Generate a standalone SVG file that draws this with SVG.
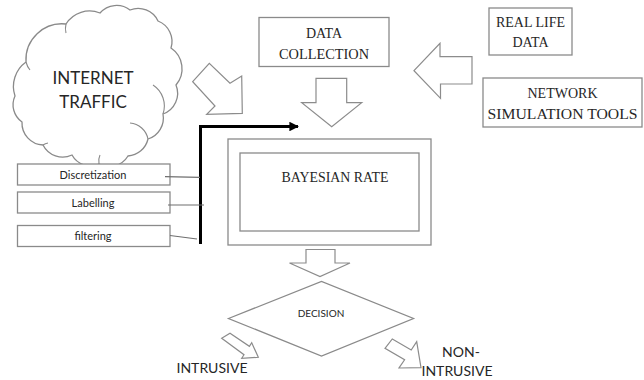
<svg xmlns="http://www.w3.org/2000/svg" width="644" height="380" viewBox="0 0 644 380">
<defs>
<style>
.box{fill:#fff;stroke:#8a8a8a;stroke-width:1.3}
.arr{fill:#fff;stroke:#8c8c8c;stroke-width:1.2;stroke-linejoin:miter}
.sans{font-family:Lato,"Open Sans","Liberation Sans",sans-serif;fill:#262626}
.serif{font-family:"Liberation Serif","DejaVu Serif",serif;fill:#262626}
.link{stroke:#6e6e6e;stroke-width:1.2;fill:none}
.inner{fill:none;stroke:#8a8a8a;stroke-width:1.1}
</style>
<marker id="ah" viewBox="0 0 10 10" refX="9" refY="5" markerWidth="3.2" markerHeight="3.2" orient="auto" markerUnits="strokeWidth">
<path d="M0,0 L10,5 L0,10 z" fill="#000"/>
</marker>
</defs>
<rect width="644" height="380" fill="#fff"/>

<g id="internet-traffic">
<path class="box" d="M15,96 A30,30 0 0 1 26,62 A36,36 0 0 1 66,24 A28,28 0 0 1 100,13 A22,22 0 0 1 130,10 A22,22 0 0 1 158,21 A22,22 0 0 1 171,48 A25,25 0 0 1 176,85 A22,22 0 0 1 163,114 A22,22 0 0 1 148,139 A22,22 0 0 1 128,156 A22,22 0 0 1 99,164 A21,21 0 0 1 72,155 A22,22 0 0 1 43,145 A22,22 0 0 1 22,122 A21,21 0 0 1 15,96 Z"/>
<path class="inner" d="M26,62 A20,20 0 0 0 30,70"/>
<path class="inner" d="M66,24 A18,18 0 0 0 66,33"/>
<path class="inner" d="M163,114 A25,25 0 0 0 153,85"/>
<path class="inner" d="M148,139 A20,20 0 0 0 130,123"/>
<path class="inner" d="M99,164 A14,14 0 0 1 100,155"/>
<path class="inner" d="M43,145 A12,12 0 0 1 48,143"/>
<text class="sans" x="93" y="84" font-size="17" text-anchor="middle">INTERNET</text>
<text class="sans" x="93" y="108" font-size="17" text-anchor="middle">TRAFFIC</text>
</g>

<g id="data-collection">
<rect class="box" x="259" y="17.5" width="130" height="49"/>
<text class="serif" x="324" y="37.5" font-size="14" text-anchor="middle">DATA</text>
<text class="serif" x="324" y="58.5" font-size="14" text-anchor="middle" textLength="90" lengthAdjust="spacingAndGlyphs">COLLECTION</text>
</g>

<g id="real-life-data">
<rect class="box" x="489" y="8" width="83" height="47"/>
<text class="serif" x="530.5" y="27" font-size="14" text-anchor="middle">REAL LIFE</text>
<text class="serif" x="530.5" y="47" font-size="14" text-anchor="middle">DATA</text>
</g>

<g id="network-simulation-tools">
<rect class="box" x="483" y="78" width="159" height="49"/>
<text class="serif" x="562.5" y="98" font-size="14" text-anchor="middle">NETWORK</text>
<text class="serif" x="562.5" y="119" font-size="14" text-anchor="middle" textLength="150" lengthAdjust="spacingAndGlyphs">SIMULATION TOOLS</text>
</g>

<g id="bayesian-rate">
<rect class="box" x="228" y="139" width="203" height="106"/>
<rect class="box" x="240" y="153" width="179" height="78"/>
<text class="serif" x="335" y="182" font-size="14" text-anchor="middle" textLength="107" lengthAdjust="spacingAndGlyphs">BAYESIAN RATE</text>
</g>

<g id="discretization">
<rect class="box" x="17.5" y="164" width="152.5" height="21"/>
<text class="sans" x="93" y="179" font-size="11" text-anchor="middle">Discretization</text>
</g>
<g id="labelling">
<rect class="box" x="17.5" y="192" width="152.5" height="21"/>
<text class="sans" x="93" y="207" font-size="11" text-anchor="middle">Labelling</text>
</g>
<g id="filtering">
<rect class="box" x="17.5" y="225.5" width="152.5" height="21"/>
<text class="sans" x="93" y="240" font-size="11" text-anchor="middle">filtering</text>
</g>

<g id="decision">
<polygon class="box" points="228.5,318.5 321.5,281.5 413.5,318.5 321.5,356"/>
<text class="sans" x="321" y="317" font-size="10" text-anchor="middle">DECISION</text>
</g>

<g id="intrusive">
<text class="sans" x="212" y="373" font-size="14" text-anchor="middle">INTRUSIVE</text>
</g>
<g id="non-intrusive">
<text class="sans" x="461" y="357" font-size="14" text-anchor="middle">NON-</text>
<text class="sans" x="457" y="375.5" font-size="14" text-anchor="middle">INTRUSIVE</text>
</g>

<g id="connectors">
<polygon class="arr" points="192.7,81.7 209.3,63.3 230,83.3 241.7,76 242.3,113.3 206.7,114.3 215,106"/>
<polygon class="arr" points="316,78.3 346.7,78.3 346.7,102.7 361.7,102.7 331.7,126.7 301.7,102.7 316,102.7"/>
<polygon class="arr" points="414,70.7 440,43.3 440,56.7 472,56.7 472,84 440.5,84 440.5,98.3"/>
<polygon class="arr" points="306,249.5 335,249.5 335,263 350,263 320,276.5 289.5,263 306,263"/>
<polygon class="arr" points="221.7,338.3 230,333.3 249.4,346.3 251.7,342.7 258.3,357.3 241.7,358.3 244,354.7"/>
<polygon class="arr" points="385,348.3 392.3,339 411.2,350 416.7,341.7 421,367.7 399,368 404.6,359.8"/>
<path d="M200.5,244 L200.5,126.5 L298,126.5" stroke="#000" stroke-width="3" fill="none" marker-end="url(#ah)"/>
<line class="link" x1="165" y1="176.7" x2="200" y2="177.3"/>
<line class="link" x1="168" y1="205" x2="204" y2="205"/>
<line class="link" x1="170" y1="235.5" x2="197" y2="239"/>
</g>
</svg>
